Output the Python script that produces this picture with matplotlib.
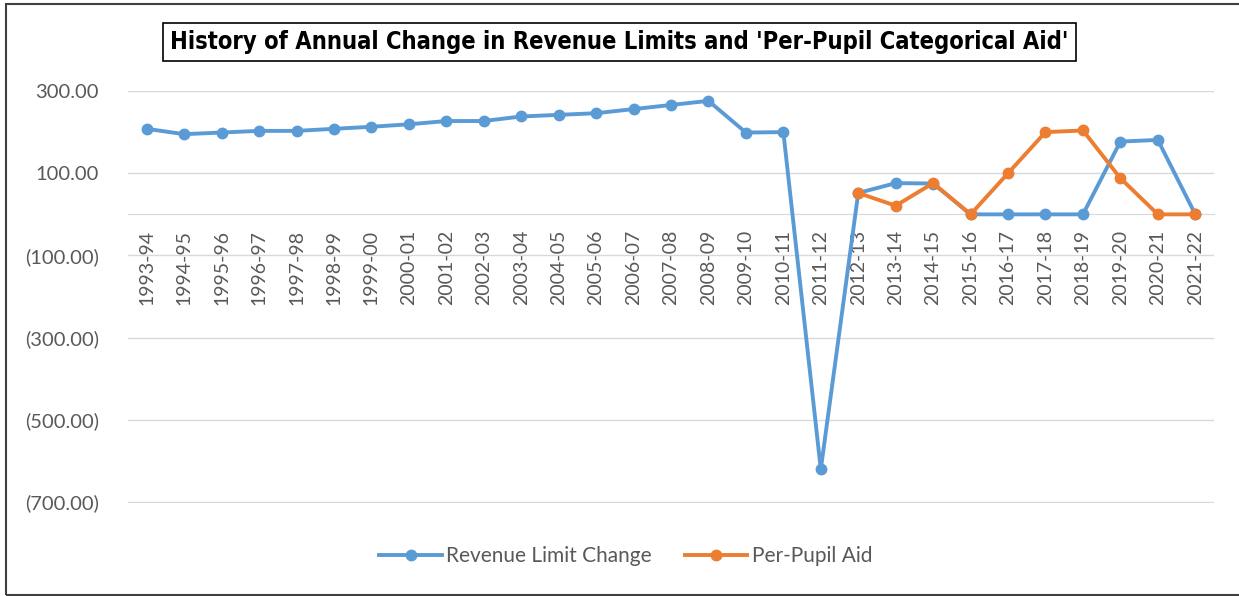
import matplotlib
matplotlib.use('Agg')
import matplotlib.pyplot as plt
from matplotlib.patches import Rectangle
from matplotlib.ticker import FuncFormatter

years = ['1993-94', '1994-95', '1995-96', '1996-97', '1997-98', '1998-99',
         '1999-00', '2000-01', '2001-02', '2002-03', '2003-04', '2004-05',
         '2005-06', '2006-07', '2007-08', '2008-09', '2009-10', '2010-11',
         '2011-12', '2012-13', '2013-14', '2014-15', '2015-16', '2016-17',
         '2017-18', '2018-19', '2019-20', '2020-21', '2021-22']
revenue_limit = [208, 195, 199, 203, 203, 208, 213, 219, 227, 227, 238, 242,
                 246, 256, 266, 276, 199, 200, -620, 52, 76, 75, 0, 0,
                 0, 0, 177, 181, 0]
# per-pupil aid only starts in 2012-13
aid_years = years[19:]
per_pupil_aid = [52, 21, 76, 0, 100, 200, 204, 88, 0, 0]

blue = '#5B9BD5'
orange = '#ED7D31'
fnt = ['Lato', 'DejaVu Sans']

fig = plt.figure(figsize=(12.39, 5.96), dpi=100)
ax = fig.add_axes([128 / 1239, 1 - 503 / 596, (1214 - 128) / 1239, (503 - 91) / 596])

x = list(range(len(years)))
x_aid = [years.index(y) for y in aid_years]
ax.plot(x, revenue_limit, '-o', color=blue, lw=2.8, ms=7.5, label='Revenue Limit Change', zorder=3)
ax.plot(x_aid, per_pupil_aid, '-o', color=orange, lw=2.8, ms=7.5, label='Per-Pupil Aid', zorder=4)

ax.set_xlim(-0.5, len(years) - 0.5)
ax.set_ylim(-702, 300)
ax.set_yticks([300, 100, -100, -300, -500, -700])


def fmt(v, pos):
    if v < 0:
        return '(%.2f)' % abs(v)
    return '%.2f' % v


ax.yaxis.set_major_formatter(FuncFormatter(fmt))
ax.grid(axis='y', color='#D9D9D9', lw=1)
ax.set_axisbelow(True)

for s in ['top', 'right', 'left']:
    ax.spines[s].set_visible(False)
ax.spines['bottom'].set_position(('data', 0))
ax.spines['bottom'].set_color('#D9D9D9')
ax.spines['bottom'].set_zorder(1)

ax.set_xticks(x)
ax.set_xticklabels(years, rotation=90, fontfamily=fnt, fontsize=14, color='#595959')
ax.tick_params(axis='x', length=0, pad=11)
ax.tick_params(axis='y', length=0, pad=21, labelcolor='#595959', labelsize=14.5)
for t in ax.get_yticklabels():
    t.set_fontfamily(fnt)

fig.text(0.5, 1 - 42 / 596, "History of Annual Change in Revenue Limits and 'Per-Pupil Categorical Aid'",
         ha='center', va='center', fontsize=17, fontweight='bold',
         fontfamily=['DejaVu Sans Condensed', 'DejaVu Sans'], fontstretch='condensed', color='black',
         bbox=dict(boxstyle='square,pad=0.3', fc='white', ec='black', lw=1.2))

leg = fig.legend(loc='center', bbox_to_anchor=(0.505, 1 - 556 / 596), ncol=2, frameon=False,
                 prop={'family': fnt, 'size': 15}, handlelength=3.0, columnspacing=1.6,
                 handletextpad=0.2)
for t in leg.get_texts():
    t.set_color('#595959')

fig.patches.append(Rectangle((6 / 1239, 1 / 596), 1, 1 - 5 / 596,
                             transform=fig.transFigure, fill=False, ec='#404040', lw=1.5))

fig.savefig('out.png', dpi=100)
